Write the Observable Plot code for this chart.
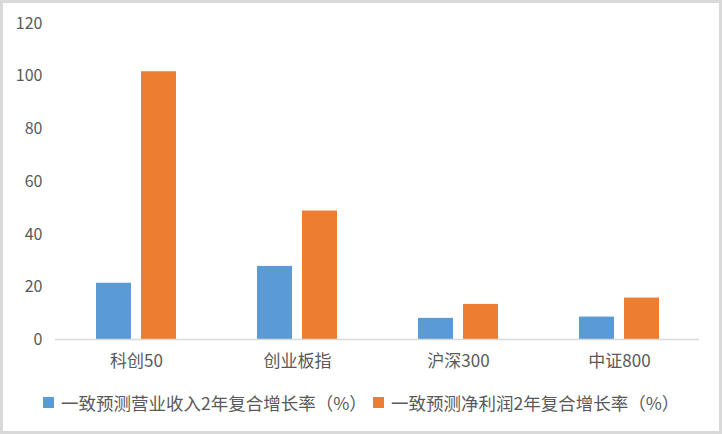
<!DOCTYPE html>
<html>
<head>
<meta charset="utf-8">
<script src="https://cdn.jsdelivr.net/npm/d3@7"></script>
<script src="https://cdn.jsdelivr.net/npm/@observablehq/plot@0.6"></script>
<style>
  body { margin: 0; background: #fff; }
  #wrap { position: relative; width: 722px; height: 434px; overflow: hidden; background: #fff;
    font-family: "Noto Sans CJK SC", "Noto Sans", sans-serif; color: #595959; }
  #chart { position: absolute; left: 0; top: 0; }
  #border { position: absolute; left: 0; top: 0; width: 722px; height: 434px; box-sizing: border-box;
    border: 3px solid #d9d9d9; pointer-events: none; }
  #legend { position: absolute; top: 390px; left: 0; width: 722px; height: 24px; font-size: 17.5px; }
  .item { position: absolute; top: 0; display: flex; align-items: center; height: 24px; white-space: nowrap; }
  .sw { width: 11px; height: 11px; margin-right: 7px; }
</style>
</head>
<body>
<div id="wrap">
  <div id="chart"></div>
  <div id="legend"></div>
  <div id="border"></div>
</div>
<script>
const categories = ["科创50", "创业板指", "沪深300", "中证800"];
const seriesNames = ["一致预测营业收入2年复合增长率（%）", "一致预测净利润2年复合增长率（%）"];
const revenueGrowth = [21.5, 27.9, 8.2, 8.7];
const profitGrowth = [101.7, 48.9, 13.5, 15.9];
const yTicks = [0, 20, 40, 60, 80, 100, 120];
const colors = ["#5B9BD5", "#ED7D31"];

const data = [];
categories.forEach((c, i) => {
  data.push({cat: c, series: seriesNames[0], value: revenueGrowth[i]});
  data.push({cat: c, series: seriesNames[1], value: profitGrowth[i]});
});

const W = 722, H = 380, mL = 55, mR = 23, mT = 23, mB = 40.5;
const font = '"Noto Sans CJK SC", "Noto Sans", sans-serif';

function build(yLabelDx) {
  return Plot.plot({
    width: W, height: H,
    marginLeft: mL, marginRight: mR, marginTop: mT, marginBottom: mB,
    style: {fontFamily: font, fontSize: "16px", color: "#595959", background: "transparent"},
    fx: {domain: categories, paddingInner: 0.491, paddingOuter: 0.245, label: null},
    x: {domain: seriesNames, paddingInner: 0.217, paddingOuter: 0, axis: null},
    y: {domain: [0, 120], ticks: yTicks, label: null},
    color: {domain: seriesNames, range: colors},
    marks: [
      Plot.axisY({ticks: yTicks, tickSize: 0, tickPadding: 3, dx: yLabelDx, label: null, fontSize: 16, fill: "#595959"}),
      Plot.axisFx({anchor: "bottom", tickSize: 0, tickPadding: 15, label: null, fontSize: 17, fill: "#595959"}),
      Plot.barY(data, {fx: "cat", x: "series", y: "value", fill: "series"})
    ]
  });
}

// the y axis sits beside the first facet; shift its labels back to the chart's left margin
const probe = build(0);
const probeLabel = probe.querySelector('g[aria-label="y-axis tick label"]');
let facetOffset = 0;
if (probeLabel) {
  const inner = probeLabel.querySelector("g[transform]");
  const m = inner && /translate\(([-\d.]+)/.exec(inner.getAttribute("transform"));
  if (m) facetOffset = +m[1];
}
const chart = build(-10 - facetOffset);

const ys = chart.scale("y");
d3.select(chart).append("line")
  .attr("x1", mL).attr("x2", W - mR)
  .attr("y1", ys.apply(0)).attr("y2", ys.apply(0))
  .attr("stroke", "#d9d9d9").attr("stroke-width", 1.5);

document.getElementById("chart").appendChild(chart);

const legend = document.getElementById("legend");
const lefts = [43, 373];
seriesNames.forEach((s, i) => {
  const it = document.createElement("div");
  it.className = "item";
  it.style.left = lefts[i] + "px";
  const sw = document.createElement("span");
  sw.className = "sw";
  sw.style.background = colors[i];
  const t = document.createElement("span");
  t.textContent = s;
  it.appendChild(sw); it.appendChild(t);
  legend.appendChild(it);
});
</script>
</body>
</html>
